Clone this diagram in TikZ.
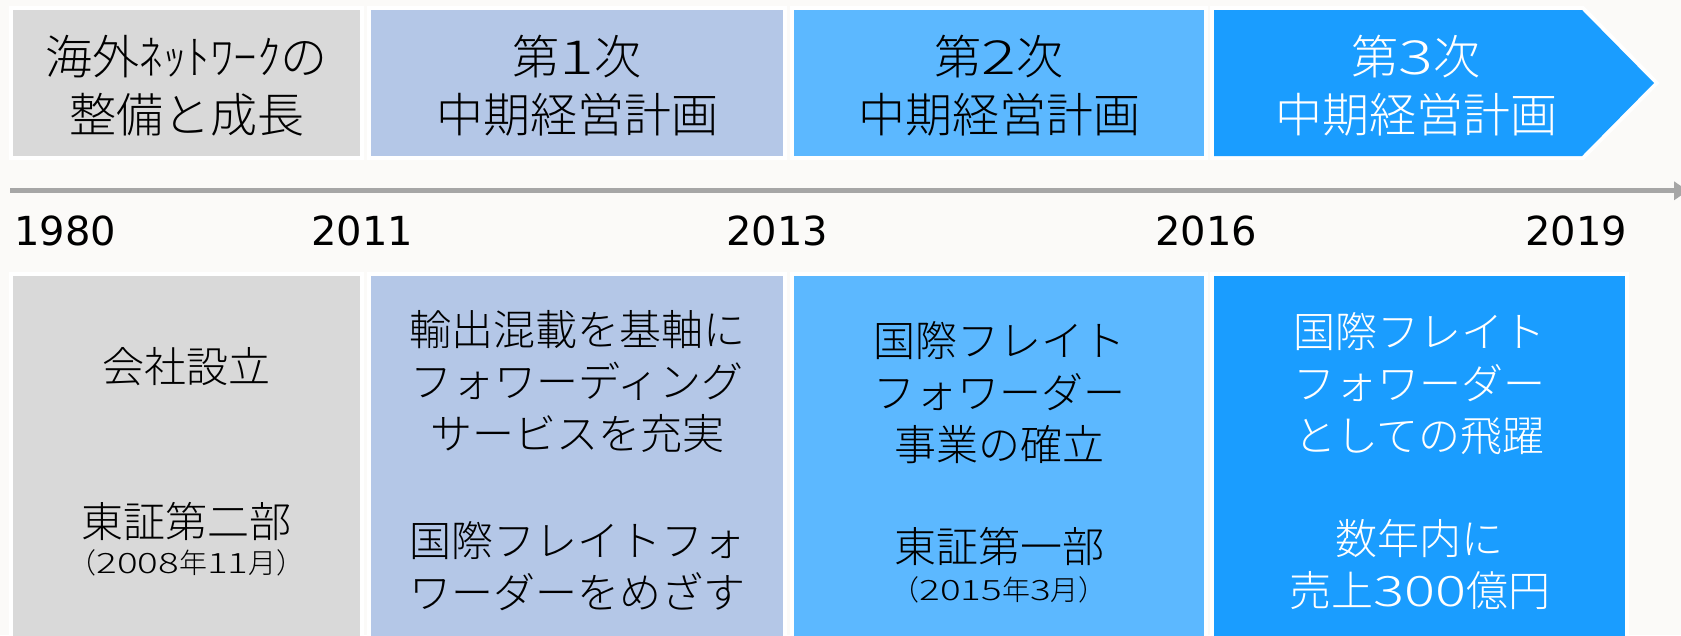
\documentclass[tikz,border=0pt]{standalone}
\usepackage{fontspec}
\usepackage{graphicx}
\usetikzlibrary{arrows.meta}
\IfFontExistsTF{Noto Sans CJK JP Light}{\newfontfamily\jp{Noto Sans CJK JP Light}}{\newfontfamily\jp{Noto Sans CJK JP}}
\newfontfamily\yr{DejaVu Sans}
\newcommand\widedig[1]{\scalebox{1.38}[1]{#1}}
\definecolor{bgc}{HTML}{FBFAF8}
\definecolor{cgray}{HTML}{D9D9D9}
\definecolor{cone}{HTML}{B4C7E7}
\definecolor{ctwo}{HTML}{5CB8FF}
\definecolor{cthree}{HTML}{1A9DFF}
\definecolor{axisc}{HTML}{A6A6A6}
\begin{document}
\begin{tikzpicture}[x=1pt,y=-1pt,
  panel/.style={preaction={draw=white,line width=8pt},inner sep=0pt,outer sep=0pt},
  toptext/.style={font=\jp\fontsize{47}{58}\selectfont,align=center,inner sep=0pt},
  bottext/.style={font=\jp\fontsize{42}{52}\selectfont,align=center,inner sep=0pt},
  smalltext/.style={font=\jp\fontsize{28}{32}\selectfont,inner sep=0pt},
  yeartext/.style={font=\yr\fontsize{40}{48}\selectfont,anchor=base west,inner sep=0pt},
  axisline/.style={draw=axisc,line width=5pt,-{Triangle[length=14pt,width=18pt]}}]
\useasboundingbox (0,0) rectangle (1681,635);
\fill[bgc] (0,0) rectangle (1681,635);
% top panels
\node[panel,fill=cgray,minimum width=347pt,minimum height=146pt] (h1) at (186.5,83) {};
\node[panel,fill=cone,minimum width=412pt,minimum height=146pt] (h2) at (577,83) {};
\node[panel,fill=ctwo,minimum width=410pt,minimum height=146pt] (h3) at (999,83) {};
\path[fill=cthree,preaction={draw=white,line width=8pt,line join=miter}]
  (1214,10) -- (1582,10) -- (1654,83) -- (1582,156) -- (1214,156) -- cycle;
\coordinate (h4) at (1416,86);
% top texts
\node[toptext] (t1) at (186.5,86) {海外ﾈｯﾄﾜｰｸの\\整備と成長};
\node[toptext] (t2) at (577,86) {第\widedig{1}次\\中期経営計画};
\node[toptext] (t3) at (999,86) {第\widedig{2}次\\中期経営計画};
\node[toptext,text=white] (t4) at (h4) {第\widedig{3}次\\中期経営計画};
% axis
\coordinate (axL) at (10,190.8);
\coordinate (axR) at (1688,190.8);
\draw[axisline] (axL) -- (axR);
% years
\node[yeartext] (y1980) at (14,245) {1980};
\node[yeartext] (y2011) at (311,245) {2011};
\node[yeartext] (y2013) at (726,245) {2013};
\node[yeartext] (y2016) at (1155,245) {2016};
\node[yeartext] (y2019) at (1525,245) {2019};
% bottom panels
\node[panel,fill=cgray,minimum width=347pt,minimum height=364pt] (b1) at (186.5,458) {};
\node[panel,fill=cone,minimum width=412pt,minimum height=364pt] (b2) at (577,458) {};
\node[panel,fill=ctwo,minimum width=410pt,minimum height=364pt] (b3) at (999,458) {};
\node[panel,fill=cthree,minimum width=411pt,minimum height=364pt] (b4) at (1419.5,458) {};
% bottom texts
\node[bottext] (p1a) at (186.5,367) {会社設立};
\node[bottext] (p1b) at (186.5,521) {東証第二部};
\node[smalltext] (p1c) at (186.5,563) {（\widedig{2008}年\widedig{11}月）};
\node[bottext] (p2a) at (577,382) {輸出混載を基軸に\\フォワーディング\\サービスを充実};
\node[bottext] (p2b) at (577,566) {国際フレイトフォ\\ワーダーをめざす};
\node[bottext] (p3a) at (999,393) {国際フレイト\\フォワーダー\\事業の確立};
\node[bottext] (p3b) at (999,546) {東証第一部};
\node[smalltext] (p3c) at (999,590) {（\widedig{2015}年\widedig{3}月）};
\node[bottext,text=white] (p4a) at (1419.5,384) {国際フレイト\\フォワーダー\\としての飛躍};
\node[bottext,text=white] (p4b) at (1419.5,564) {数年内に\\売上\widedig{300}億円};
\end{tikzpicture}
\end{document}
